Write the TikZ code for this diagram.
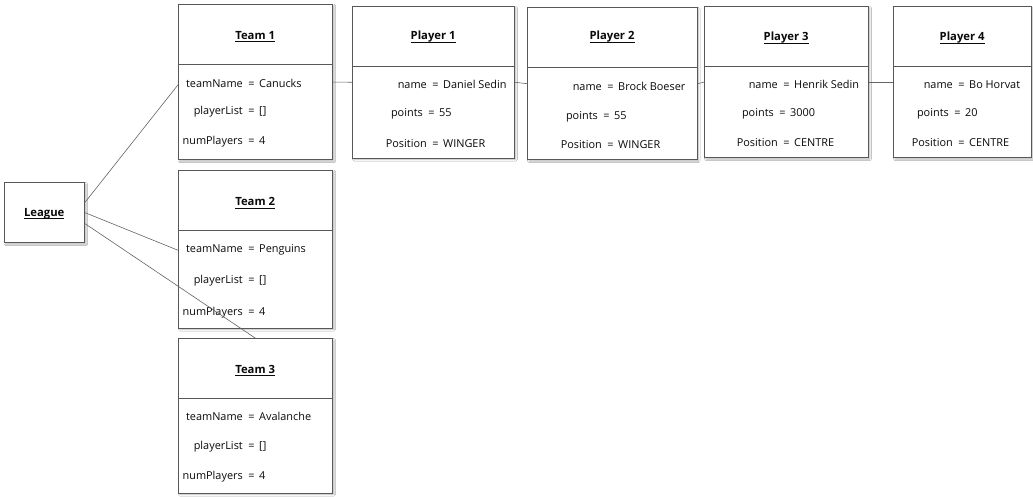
\documentclass[tikz,border=0pt]{standalone}
\usepackage{fontspec}
\setmainfont{Open Sans}
\usetikzlibrary{shadows.blur}

\definecolor{frame}{RGB}{88,88,88}
\definecolor{wire}{RGB}{100,100,100}
\definecolor{ink}{RGB}{10,10,10}

% underlined object title, rule drawn just under the baseline
\newcommand\titleul[1]{\sbox0{#1}\rlap{\rule[-2.8pt]{\wd0}{0.75pt}}\usebox0}

\tikzset{
  objframe/.style={draw=frame, line width=0.8pt, fill=white, inner sep=0pt,
    blur shadow={shadow xshift=1.4pt, shadow yshift=-1.4pt,
                 shadow blur radius=1.6pt, shadow opacity=28}},
  divider/.style={draw=frame, line width=0.8pt},
  titletext/.style={inner sep=0pt, text=ink, font=\fontsize{11.3}{13}\selectfont\bfseries},
  fieldtext/.style={inner sep=0pt, text=ink, font=\fontsize{10.9}{13}\selectfont},
  wireline/.style={draw=wire, line width=0.6pt},
}

% object box: name, left, top, right, bottom, divider y, title baseline y, title
\newcommand\objbox[8]{%
  \node[objframe, minimum width={#4-#2}, minimum height={#5-#3}, anchor=north west] (#1) at (#2,#3) {};
  \draw[divider] (#2,#6) -- (#4,#6);
  \node[titletext, anchor=base] (#1-title) at ({(#2+#4)/2},#7) {\titleul{#8}};
}

% attribute row: node prefix, column x, baseline y, field name, value
\newcommand\field[5]{%
  \node[fieldtext, anchor=base east] (#1-n) at (#2,#3) {#4};
  \node[fieldtext, anchor=base] (#1-eq) at ({#2+8.5},#3) {=};
  \node[fieldtext, anchor=base west] (#1-v) at ({#2+16},#3) {#5};
}

\begin{document}
\begin{tikzpicture}[x=1pt, y=-1pt]
\useasboundingbox[fill=white] (0,0) rectangle (1033,497);

% league
\node[objframe, minimum width=80.3, minimum height=60, anchor=north west] (league) at (4,182.3) {};
\node[titletext, anchor=base] (league-title) at (44.2,216) {\titleul{League}};

% teams
\objbox{team1}{178}{4}{332.3}{159.3}{64.3}{39.3}{Team 1}
\field{t1a}{243}{87.3}{teamName}{Canucks}
\field{t1b}{243}{115}{playerList}{[]}
\field{t1c}{243}{145}{numPlayers}{4}

\objbox{team2}{178}{170}{332.3}{327.7}{230.7}{205.7}{Team 2}
\field{t2a}{243}{252.7}{teamName}{Penguins}
\field{t2b}{243}{283.3}{playerList}{[]}
\field{t2c}{243}{315}{numPlayers}{4}

\objbox{team3}{178}{338.3}{332.3}{492.7}{398.7}{373.3}{Team 3}
\field{t3a}{243}{420.7}{teamName}{Avalanche}
\field{t3b}{243}{449.3}{playerList}{[]}
\field{t3c}{243}{479.3}{numPlayers}{4}

% players
\objbox{player1}{352.3}{6}{514}{157.7}{66.7}{40}{Player 1}
\field{p1a}{427}{88.3}{name}{Daniel Sedin}
\field{p1b}{423}{116.7}{points}{55}
\field{p1c}{427}{147.3}{Position}{WINGER}

\objbox{player2}{527.3}{7.3}{696.7}{159.3}{67.7}{39.8}{Player 2}
\field{p2a}{602}{90.7}{name}{Brock Boeser}
\field{p2b}{598}{119.3}{points}{55}
\field{p2c}{602}{148.3}{Position}{WINGER}

\objbox{player3}{704.3}{6}{868}{157.3}{66}{40.7}{Player 3}
\field{p3a}{778}{88.3}{name}{Henrik Sedin}
\field{p3b}{774}{116.7}{points}{3000}
\field{p3c}{778}{146.7}{Position}{CENTRE}

\objbox{player4}{893.3}{6}{1031}{157.3}{66}{40.7}{Player 4}
\field{p4a}{953}{88.3}{name}{Bo Horvat}
\field{p4b}{949}{116.7}{points}{20}
\field{p4c}{953}{146.7}{Position}{CENTRE}

% links
\draw[wireline] ([yshift=10.5pt]league.east) -- ([yshift=-2.8pt]team1.west);
\draw[wireline] (league.east) -- ([yshift=-1pt]team2.west);
\draw[wireline] ([yshift=-11pt]league.east) -- (team3.north);
\draw[wireline] (team1.east) -- (player1.west);
\draw[wireline] (player1.east) -- (player2.west);
\draw[wireline] (player2.east) -- (player3.west);
\draw[wireline] (player3.east) -- (player4.west);
\end{tikzpicture}
\end{document}
